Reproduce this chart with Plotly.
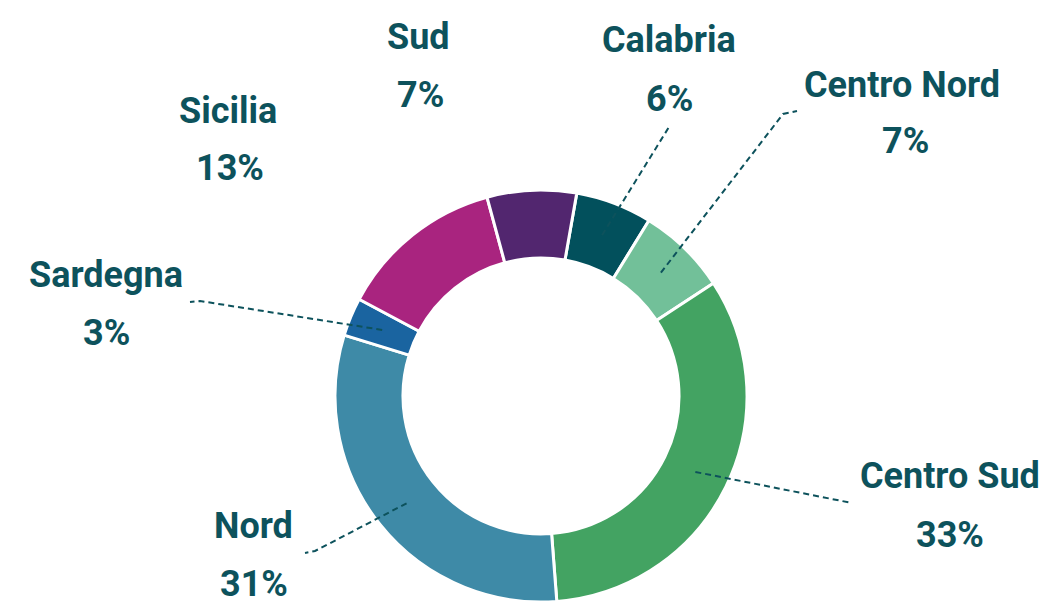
import math
import plotly.graph_objects as go

# ---- data ----
regions = ["Calabria", "Centro Nord", "Centro Sud", "Nord", "Sardegna", "Sicilia", "Sud"]
shares = [6, 7, 33, 31, 3, 13, 7]
colors = ["#02505c", "#72c099", "#43a362", "#3e8aa7", "#1a64a0", "#a9247f", "#52266f"]

# ---- layout settings (pixels) ----
W, H = 1042, 602
CX, CY, R_OUT = 541, 396, 206
HOLE = 0.67
ROTATION = 10
TEXT_COLOR = "#0d525c"
FONT = "Roboto"
FONT_SIZE = 36

# label centre (name line) and percent line centre
label_pos = {
    "Calabria": ((669, 40), (669, 99)),
    "Centro Nord": ((902, 85), (905, 141)),
    "Centro Sud": ((950, 476), (950, 535)),
    "Nord": ((253, 526), (254, 584)),
    "Sardegna": ((106, 275), (106, 333)),
    "Sicilia": ((228, 111), (230, 168)),
    "Sud": ((418, 37), (420, 95)),
}
# leader line end points (towards labels); None = no leader
leader_end = {
    "Calabria": [(669, 127)],
    "Centro Nord": [(783, 114), (797, 111)],
    "Centro Sud": [(852, 503)],
    "Nord": [(315, 551), (305, 553)],
    "Sardegna": [(200, 301), (190, 302)],
    "Sicilia": None,
    "Sud": None,
}


def px(x):
    return x / W


def py(y):
    return 1 - y / H


fig = go.Figure(
    go.Pie(
        labels=regions,
        values=shares,
        hole=HOLE,
        sort=False,
        direction="clockwise",
        rotation=ROTATION,
        marker=dict(colors=colors, line=dict(color="white", width=3)),
        textinfo="none",
        hoverinfo="label+percent",
        domain=dict(x=[px(CX - R_OUT), px(CX + R_OUT)], y=[max(0, py(CY + R_OUT)), py(CY - R_OUT)]),
        showlegend=False,
    )
)

# mid-angles from the data
total = sum(shares)
angle = ROTATION
mid_angles = {}
for name, v in zip(regions, shares):
    span = 360 * v / total
    mid_angles[name] = angle + span / 2
    angle += span

r_mid = R_OUT * (1 + HOLE) / 2
shapes = []
annotations = []
for name, v in zip(regions, shares):
    (nx, ny), (qx, qy) = label_pos[name]
    annotations.append(dict(x=px(nx), y=py(ny), xref="paper", yref="paper", text=name,
                            showarrow=False, xanchor="center", yanchor="middle",
                            font=dict(family=FONT, size=FONT_SIZE, color=TEXT_COLOR, weight="bold")))
    annotations.append(dict(x=px(qx), y=py(qy), xref="paper", yref="paper",
                            text=f"{round(100 * v / total)}%",
                            showarrow=False, xanchor="center", yanchor="middle",
                            font=dict(family=FONT, size=FONT_SIZE, color=TEXT_COLOR, weight="bold")))
    ends = leader_end[name]
    if ends:
        a = math.radians(mid_angles[name])
        sx = CX + r_mid * math.sin(a)
        sy = CY - r_mid * math.cos(a)
        pts = [(sx, sy)] + ends
        path = "M " + " L ".join(f"{px(x):.5f},{py(y):.5f}" for x, y in pts)
        shapes.append(dict(type="path", path=path, xref="paper", yref="paper",
                           line=dict(color=TEXT_COLOR, width=2, dash="6px,4px")))

fig.update_layout(
    width=W, height=H,
    margin=dict(l=0, r=0, t=0, b=0),
    paper_bgcolor="white", plot_bgcolor="white",
    shapes=shapes, annotations=annotations,
)

fig.write_html("out.html",
               config={"displayModeBar": False},
               post_script="document.body.style.margin='0';document.body.style.overflow='hidden';")
